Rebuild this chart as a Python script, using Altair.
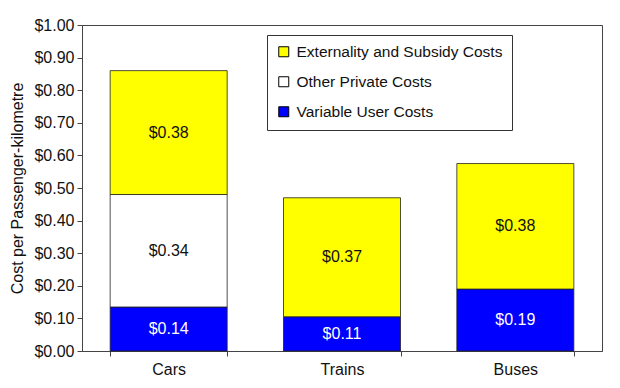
import altair as alt
import pandas as pd

modes = ["Cars", "Trains", "Buses"]
legend_order = ["Externality and Subsidy Costs", "Other Private Costs", "Variable User Costs"]

variable_vals = [0.135, 0.105, 0.19]
other_vals = [0.345, 0.0, 0.0]
extern_vals = [0.38, 0.365, 0.385]

variable_labels = ["$0.14", "$0.11", "$0.19"]
other_labels = ["$0.34", "", ""]
extern_labels = ["$0.38", "$0.37", "$0.38"]

y_ticks = [0.0, 0.1, 0.2, 0.3, 0.4, 0.5, 0.6, 0.7, 0.8, 0.9, 1.0]

colors = ["#FFFF00", "#FFFFFF", "#0000FF"]
text_colors = {"Variable User Costs": "#FFFFFF", "Other Private Costs": "#111111",
               "Externality and Subsidy Costs": "#111111"}

rows = []
for i, m in enumerate(modes):
    base = 0.0
    for cat, vals, labs in [("Variable User Costs", variable_vals, variable_labels),
                            ("Other Private Costs", other_vals, other_labels),
                            ("Externality and Subsidy Costs", extern_vals, extern_labels)]:
        v = vals[i]
        if v > 0:
            rows.append({"mode": m, "cost": cat, "y0": base, "y1": base + v,
                         "mid": base + v / 2, "label": labs[i], "tc": text_colors[cat]})
        base += v
df = pd.DataFrame(rows)

FONT = "Liberation Sans"

x_axis = alt.Axis(labelAngle=0, labelFontSize=16, labelFont=FONT, labelColor="#111",
                  tickBand="extent", tickSize=5, tickColor="#444", domainColor="#444",
                  labelPadding=5)
y_axis = alt.Axis(values=y_ticks, tickCount=11, format="$.2f", grid=False,
                  labelOverlap=False,
                  title="Cost per Passenger-kilometre", titleFontSize=16,
                  titleFontWeight="normal", titleFont=FONT, titleColor="#111",
                  labelFontSize=16, labelFont=FONT, labelColor="#111",
                  tickSize=5, tickColor="#444", domainColor="#444",
                  labelPadding=3, titlePadding=8)
x_scale = alt.Scale(paddingInner=0.325, paddingOuter=0.1625)
y_scale = alt.Scale(domain=[0, 1], nice=False)

bars = alt.Chart(df).mark_bar(stroke="#222", strokeWidth=0.8).encode(
    x=alt.X("mode:N", sort=modes, title=None, scale=x_scale, axis=x_axis),
    y=alt.Y("y0:Q", scale=y_scale, axis=y_axis),
    y2="y1:Q",
    color=alt.Color("cost:N", scale=alt.Scale(domain=legend_order, range=colors),
                    legend=alt.Legend(title=None, orient="none", legendX=185, legendY=10,
                                      strokeColor="#333", fillColor="#FFFFFF", padding=9,
                                      symbolType="square", symbolSize=100,
                                      symbolStrokeColor="#000", symbolStrokeWidth=1,
                                      labelFontSize=15.5, labelFont=FONT, labelColor="#111",
                                      labelLimit=0, rowPadding=13, labelOffset=5)),
)

texts = alt.Chart(df).mark_text(fontSize=16, font=FONT).encode(
    x=alt.X("mode:N", sort=modes, title=None, scale=x_scale, axis=x_axis),
    y=alt.Y("mid:Q", scale=y_scale, axis=y_axis),
    text="label:N",
    color=alt.Color("tc:N", scale=None),
)

chart = alt.layer(bars, texts).properties(
    width=520, height=326,
    autosize=alt.AutoSizeParams(type="none"),
    padding={"left": 74, "top": 17, "right": 10, "bottom": 30},
    background="white",
).configure_view(stroke="#444", strokeWidth=1)

chart.save("out.html", embed_options={"renderer": "svg", "actions": False})
